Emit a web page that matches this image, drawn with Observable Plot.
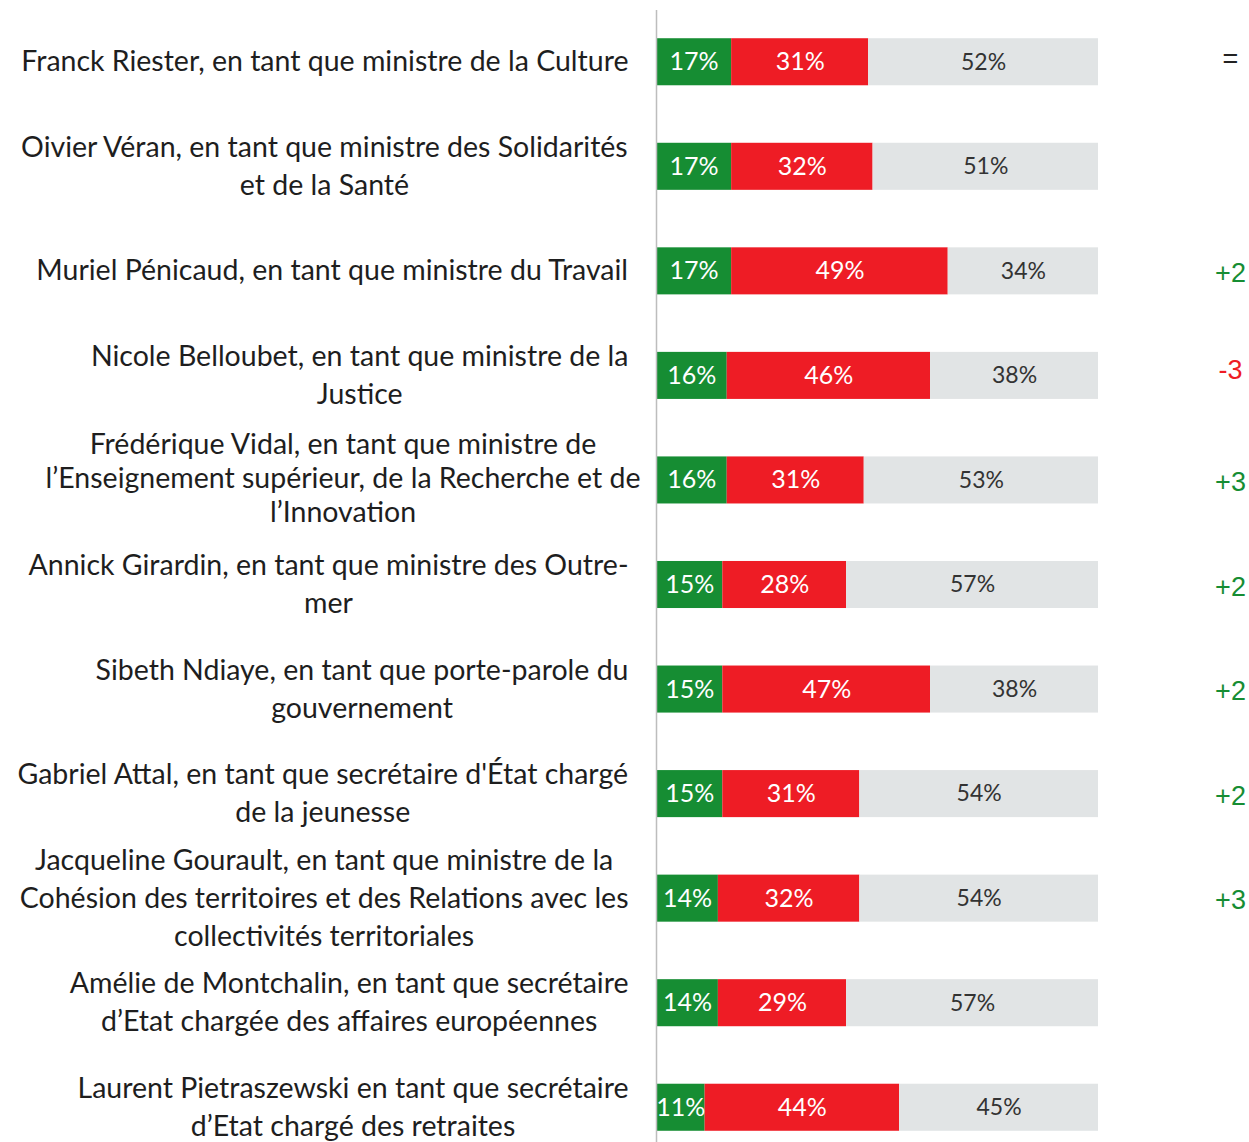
<!DOCTYPE html>
<html><head><meta charset="utf-8">
<script src="https://cdn.jsdelivr.net/npm/d3@7"></script>
<script src="https://cdn.jsdelivr.net/npm/@observablehq/plot@0.6"></script>
<style>body{margin:0;background:#fff} svg{display:block}</style>
</head><body><div id="chart"></div>
<script>
const names = [
  "Franck Riester, en tant que ministre de la Culture",
  "Oivier Véran, en tant que ministre des Solidarités\net de la Santé",
  "Muriel Pénicaud, en tant que ministre du Travail",
  "Nicole Belloubet, en tant que ministre de la\nJustice",
  "Frédérique Vidal, en tant que ministre de\nl’Enseignement supérieur, de la Recherche et de\nl’Innovation",
  "Annick Girardin, en tant que ministre des Outre-\nmer",
  "Sibeth Ndiaye, en tant que porte-parole du\ngouvernement",
  "Gabriel Attal, en tant que secrétaire d'État chargé\nde la jeunesse",
  "Jacqueline Gourault, en tant que ministre de la\nCohésion des territoires et des Relations avec les\ncollectivités territoriales",
  "Amélie de Montchalin, en tant que secrétaire\nd’Etat chargée des affaires européennes",
  "Laurent Pietraszewski en tant que secrétaire\nd’Etat chargé des retraites"
];
const bonne = [17, 17, 17, 16, 16, 15, 15, 15, 14, 14, 11];
const mauvaise = [31, 32, 49, 46, 31, 28, 47, 31, 32, 29, 44];
const nsp = [52, 51, 34, 38, 53, 57, 38, 54, 54, 57, 45];
const evolutions = ["=", "", "+2", "-3", "+3", "+2", "+2", "+2", "+3", "", ""];
const categories = ["Bonne opinion", "Mauvaise opinion", "Ne se prononce pas"];
const colors = ["#168d33", "#ee1c25", "#e1e4e5"];

const series = [bonne, mauvaise, nsp];
const data = [];
names.forEach((n, i) => categories.forEach((c, j) => data.push({name: n, cat: c, value: series[j][i]})));
const evoRows = names.map((n, i) => ({name: n, evo: evolutions[i]}));

const FONT = "Lato";
const FS = 28.5;
const ctx = document.createElement("canvas").getContext("2d");
ctx.font = `${FS}px ${FONT}`;
const maxW = s => d3.max(s.split("\n"), l => ctx.measureText(l).width);

const labelMarks = names.map((n, i) => {
  const compact = i === 4;
  return Plot.text([n], {
    y: d => d, text: d => d, frameAnchor: "left", textAnchor: "middle",
    dx: compact ? -(16 + maxW(n) / 2) : -(28 + maxW(n) / 2), dy: -3,
    lineHeight: compact ? 1.19 : 1.33, fontSize: FS, fontFamily: FONT, fill: "#1e1e1e"
  });
});

const evoStyle = {y: "name", text: "evo", frameAnchor: "right", textAnchor: "middle", dx: 132,
  fontSize: 27, fontFamily: "Liberation Sans"};

const chart = Plot.plot({
  width: 1249, height: 1142,
  marginLeft: 656, marginRight: 151, marginTop: 33, marginBottom: 6,
  style: {fontFamily: FONT, background: "#fff"},
  x: {domain: [0, 100], axis: null},
  y: {domain: names, axis: null, paddingInner: 0.55, paddingOuter: 0.05, round: false},
  color: {domain: categories, range: colors},
  marks: [
    Plot.barX(data, Plot.stackX({x: "value", y: "name", fill: "cat", order: categories})),
    Plot.text(data, Plot.stackX({x: "value", y: "name", z: "cat", order: categories,
      text: d => d.cat !== "Ne se prononce pas" ? d.value + "%" : null,
      fill: "white", fontSize: 25, fontFamily: FONT})),
    Plot.text(data, Plot.stackX({x: "value", y: "name", z: "cat", order: categories,
      text: d => d.cat === "Ne se prononce pas" ? d.value + "%" : null,
      fill: "#333", fontSize: 23, fontFamily: FONT})),
    Plot.ruleX([0], {stroke: "#bdbdbd", strokeWidth: 1.5, insetTop: -23, insetBottom: -6}),
    ...labelMarks,
    Plot.text(evoRows.filter(d => d.evo.startsWith("+")), {...evoStyle, dy: 2, fill: "#168d33"}),
    Plot.text(evoRows.filter(d => d.evo.startsWith("-")), {...evoStyle, dy: -6, fill: "#ee1c25"}),
    Plot.text(evoRows.filter(d => d.evo === "="), {...evoStyle, dy: -3, fill: "#222"})
  ]
});
document.getElementById("chart").append(chart);
</script></body></html>
